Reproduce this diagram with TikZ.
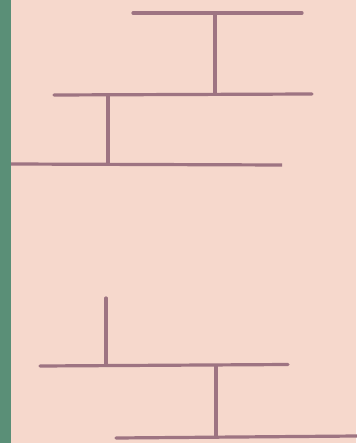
\documentclass[tikz,border=0pt]{standalone}
\definecolor{bgpink}{HTML}{F6D8CC}
\definecolor{stripgreen}{HTML}{5A8F77}
\definecolor{linemauve}{HTML}{9E7482}
\tikzset{bar/.style={draw=linemauve,line width=3.2pt,line cap=round}}
\begin{document}
\begin{tikzpicture}[x=1pt,y=-1pt]
\useasboundingbox (0,0) rectangle (356,443);
\fill[bgpink] (0,0) rectangle (356,443);
\fill[stripgreen] (0,0) rectangle (11,443);
% top group
\draw[bar] (133,13) -- (302,13);
\draw[bar] (215,14) -- (215,93);
\draw[bar] (54,95) -- (312,94);
\draw[bar] (108,96) -- (108,163);
\draw[bar,line cap=butt] (11,164) -- (282,165);
% bottom group
\draw[bar] (106,298) -- (106,365);
\draw[bar] (40,366) -- (288,364.5);
\draw[bar] (216,366) -- (216,437);
\draw[bar] (116,438) -- (357,436);
\end{tikzpicture}
\end{document}
